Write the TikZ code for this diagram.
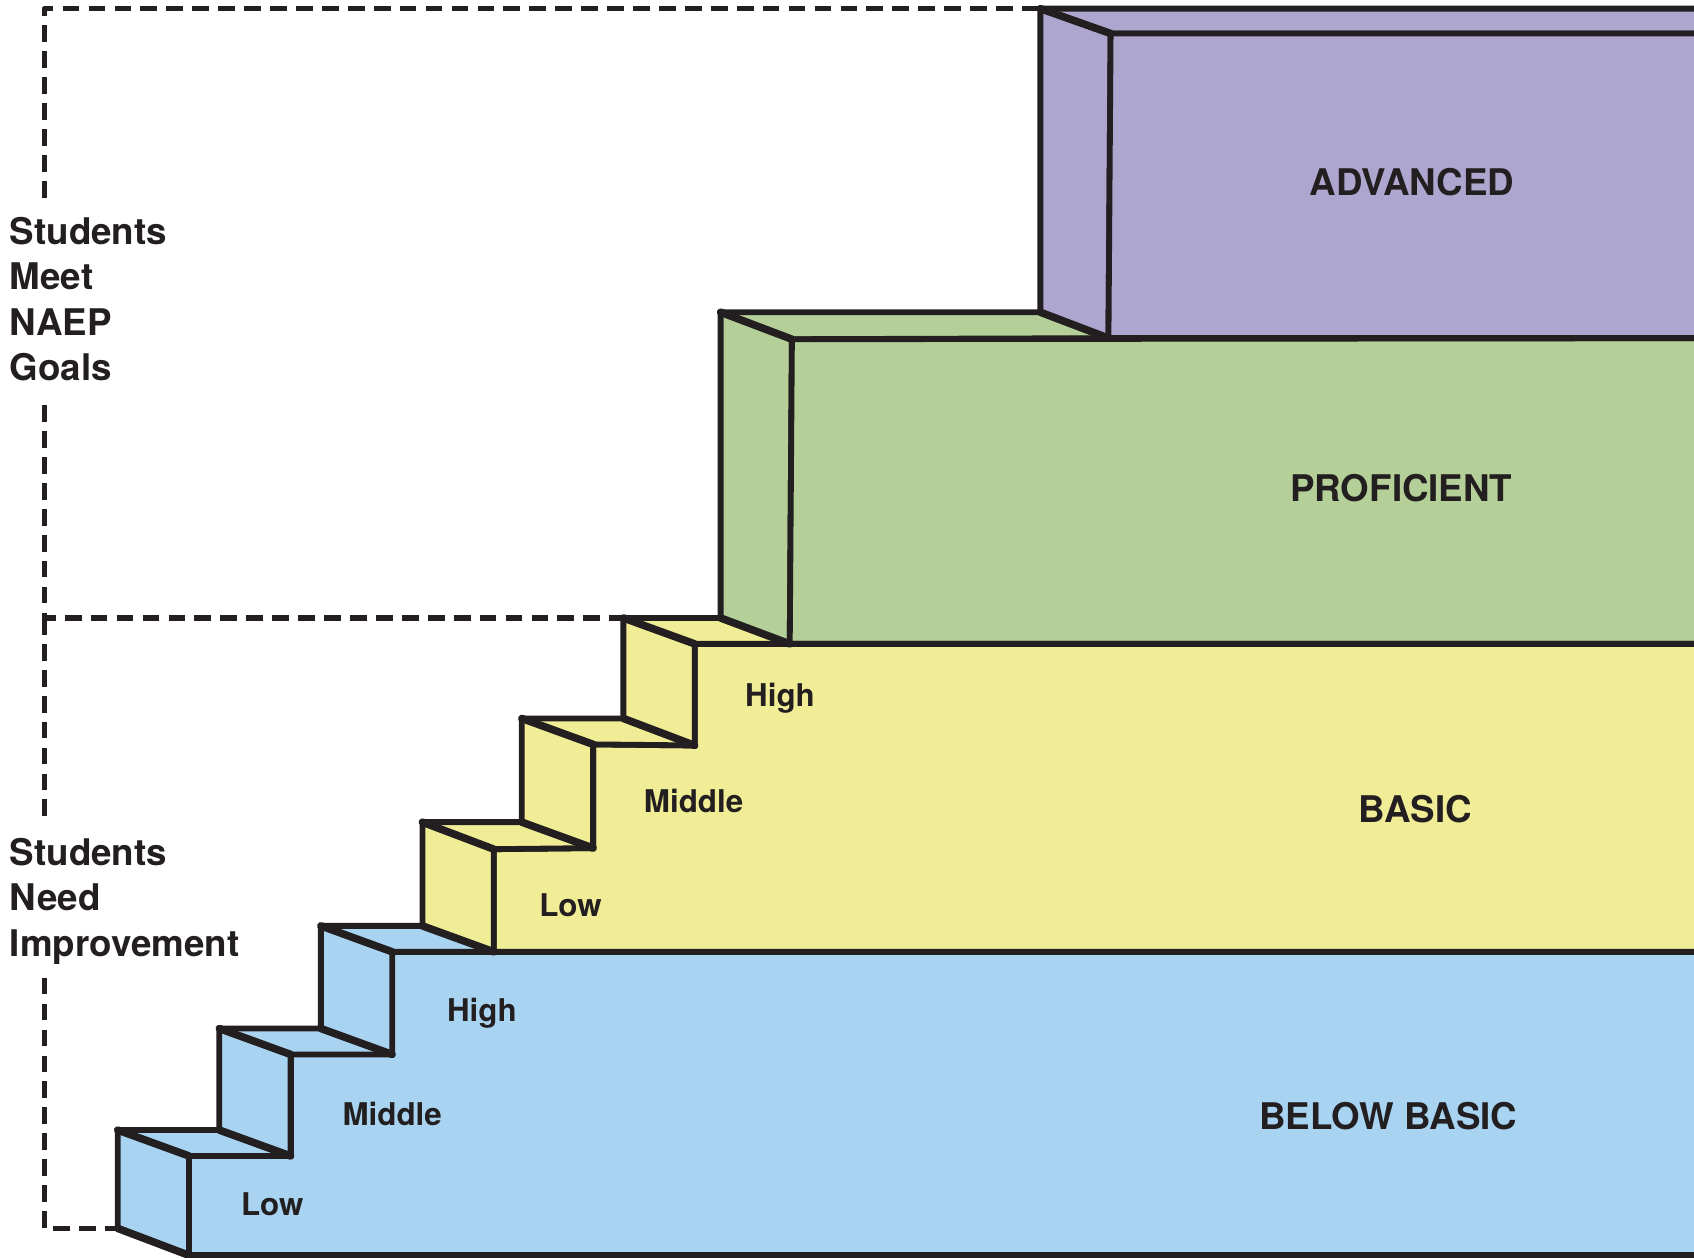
\documentclass[tikz,border=0pt]{standalone}
\usepackage{fontspec}
\setmainfont{TeX Gyre Heros}
\definecolor{ink}{HTML}{231F20}
\definecolor{purp}{HTML}{ADA7D0}
\definecolor{grn}{HTML}{B4D098}
\definecolor{yel}{HTML}{F0ED96}
\definecolor{blu}{HTML}{A8D4F2}
\begin{document}
\begin{tikzpicture}[x=1pt,y=-1pt,line join=round,
  faceline/.style={draw=ink,line width=5.4pt},
  diagline/.style={draw=ink,line width=7pt,line cap=round},
  guide/.style={draw=ink,line width=5pt,dash pattern=on 15.5pt off 8.5pt},
  lvl/.style={font=\fontsize{34}{42}\selectfont\bfseries,text=ink,inner sep=0pt},
  sublbl/.style={font=\fontsize{29}{35}\selectfont\bfseries,text=ink,inner sep=0pt},
  sidelbl/.style={font=\fontsize{34}{42}\selectfont\bfseries,text=ink,inner sep=0pt,align=left,anchor=west}]
\useasboundingbox (0,0) rectangle (1568,1164);
\fill[white] (0,0) rectangle (1568,1164);
\begin{scope}
\clip (0,0) rectangle (1568,1164);
% ---------- ADVANCED ----------
\coordinate (pB) at (963,8);
\coordinate (pF) at (1028,31);
\coordinate (pFb) at (1026,313);
\coordinate (pBb) at (963,289);
% ---------- PROFICIENT ----------
\coordinate (gB) at (667,289);
\coordinate (gF) at (733,314);
\coordinate (gFb) at (731,596);
\coordinate (gBb) at (667,572);
% green
\filldraw[fill=grn,faceline] (gB) -- (pBb) -- (pFb) -- (gF) -- cycle;
\filldraw[fill=grn,faceline] (gB) -- (gF) -- (gFb) -- (gBb) -- cycle;
\filldraw[fill=grn,faceline] (gF) -- (1600,313) -- (1600,596) -- (gFb) -- cycle;
% purple
\filldraw[fill=purp,faceline] (pB) -- (1600,8) -- (1600,31) -- (pF) -- cycle;
\filldraw[fill=purp,faceline] (pB) -- (pF) -- (pFb) -- (pBb) -- cycle;
\filldraw[fill=purp,faceline] (pF) -- (1600,31) -- (1600,313) -- (pFb) -- cycle;
% ---------- BASIC ----------
\coordinate (y3B) at (577,572);
\coordinate (y3F) at (643,596);
\coordinate (y3Fb) at (643,690);
\coordinate (y3Bb) at (577,665);
\coordinate (y2B) at (483,665);
\coordinate (y2F) at (549,689);
\coordinate (y2Fb) at (549,785);
\coordinate (y2Bb) at (483,761);
\coordinate (y1B) at (391,761);
\coordinate (y1F) at (457,786);
\coordinate (y1Fb) at (457,881);
\coordinate (y1Bb) at (391,857);
\filldraw[fill=yel,faceline] (y3F) -- (1600,596) -- (1600,881) -- (y1Fb) -- (y1F) -- (y2Fb) -- (y2F) -- (y3Fb) -- cycle;
\filldraw[fill=yel,faceline] (y3B) -- (gBb) -- (gFb) -- (y3F) -- cycle;
\filldraw[fill=yel,faceline] (y3B) -- (y3F) -- (y3Fb) -- (y3Bb) -- cycle;
\filldraw[fill=yel,faceline] (y2B) -- (y3Bb) -- (y3Fb) -- (y2F) -- cycle;
\filldraw[fill=yel,faceline] (y2B) -- (y2F) -- (y2Fb) -- (y2Bb) -- cycle;
\filldraw[fill=yel,faceline] (y1B) -- (y2Bb) -- (y2Fb) -- (y1F) -- cycle;
\filldraw[fill=yel,faceline] (y1B) -- (y1F) -- (y1Fb) -- (y1Bb) -- cycle;
% ---------- BELOW BASIC ----------
\coordinate (b3B) at (297,857);
\coordinate (b3F) at (363,881);
\coordinate (b3Fb) at (363,976);
\coordinate (b3Bb) at (297,952);
\coordinate (b2B) at (203,952);
\coordinate (b2F) at (269,976);
\coordinate (b2Fb) at (269,1070);
\coordinate (b2Bb) at (203,1046);
\coordinate (b1B) at (109,1046);
\coordinate (b1F) at (175,1070);
\coordinate (b1Fb) at (175,1162);
\coordinate (b1Bb) at (109,1137);
\filldraw[fill=blu,faceline] (b3F) -- (1600,881) -- (1600,1162) -- (b1Fb) -- (b1F) -- (b2Fb) -- (b2F) -- (b3Fb) -- cycle;
\filldraw[fill=blu,faceline] (b3B) -- (y1Bb) -- (y1Fb) -- (b3F) -- cycle;
\filldraw[fill=blu,faceline] (b3B) -- (b3F) -- (b3Fb) -- (b3Bb) -- cycle;
\filldraw[fill=blu,faceline] (b2B) -- (b3Bb) -- (b3Fb) -- (b2F) -- cycle;
\filldraw[fill=blu,faceline] (b2B) -- (b2F) -- (b2Fb) -- (b2Bb) -- cycle;
\filldraw[fill=blu,faceline] (b1B) -- (b2Bb) -- (b2Fb) -- (b1F) -- cycle;
\filldraw[fill=blu,faceline] (b1B) -- (b1F) -- (b1Fb) -- (b1Bb) -- cycle;
% ---------- bolder diagonal edges ----------
\draw[diagline] (pB) -- (pF);  \draw[diagline] (pBb) -- (pFb);
\draw[diagline] (gB) -- (gF);  \draw[diagline] (gBb) -- (gFb);
\draw[diagline] (y3B) -- (y3F); \draw[diagline] (y3Bb) -- (y3Fb);
\draw[diagline] (y2B) -- (y2F); \draw[diagline] (y2Bb) -- (y2Fb);
\draw[diagline] (y1B) -- (y1F); \draw[diagline] (y1Bb) -- (y1Fb);
\draw[diagline] (b3B) -- (b3F); \draw[diagline] (b3Bb) -- (b3Fb);
\draw[diagline] (b2B) -- (b2F); \draw[diagline] (b2Bb) -- (b2Fb);
\draw[diagline] (b1B) -- (b1F); \draw[diagline] (b1Bb) -- (b1Fb);
\end{scope}
% ---------- dashed brackets ----------
\draw[guide] (41,183) -- (41,8) -- (pB);
\draw[guide] (41,375) -- (41,572) -- (y3B);
\draw[guide] (41,572) -- (41,760);
\draw[guide] (41,905) -- (41,1137) -- (b1Bb);
% ---------- labels ----------
\node[lvl] (adv) at (1307,169) {ADVANCED};
\node[lvl] (prof) at (1297,452) {PROFICIENT};
\node[lvl] (basic) at (1310,749) {BASIC};
\node[lvl] (below) at (1285,1033) {BELOW BASIC};
\node[sublbl] (yh) at (722,646) {High};
\node[sublbl] (ym) at (642,741) {Middle};
\node[sublbl] (yl) at (528,838) {Low};
\node[sublbl] (bh) at (446,938) {High};
\node[sublbl] (bm) at (363,1031) {Middle};
\node[sublbl] (bl) at (252,1115) {Low};
\node[sidelbl] (meet) at (9,277) {Students\\Meet\\NAEP\\Goals};
\node[sidelbl] (need) at (9,834) {Students\\Need\\Improvement};
\end{tikzpicture}
\end{document}
